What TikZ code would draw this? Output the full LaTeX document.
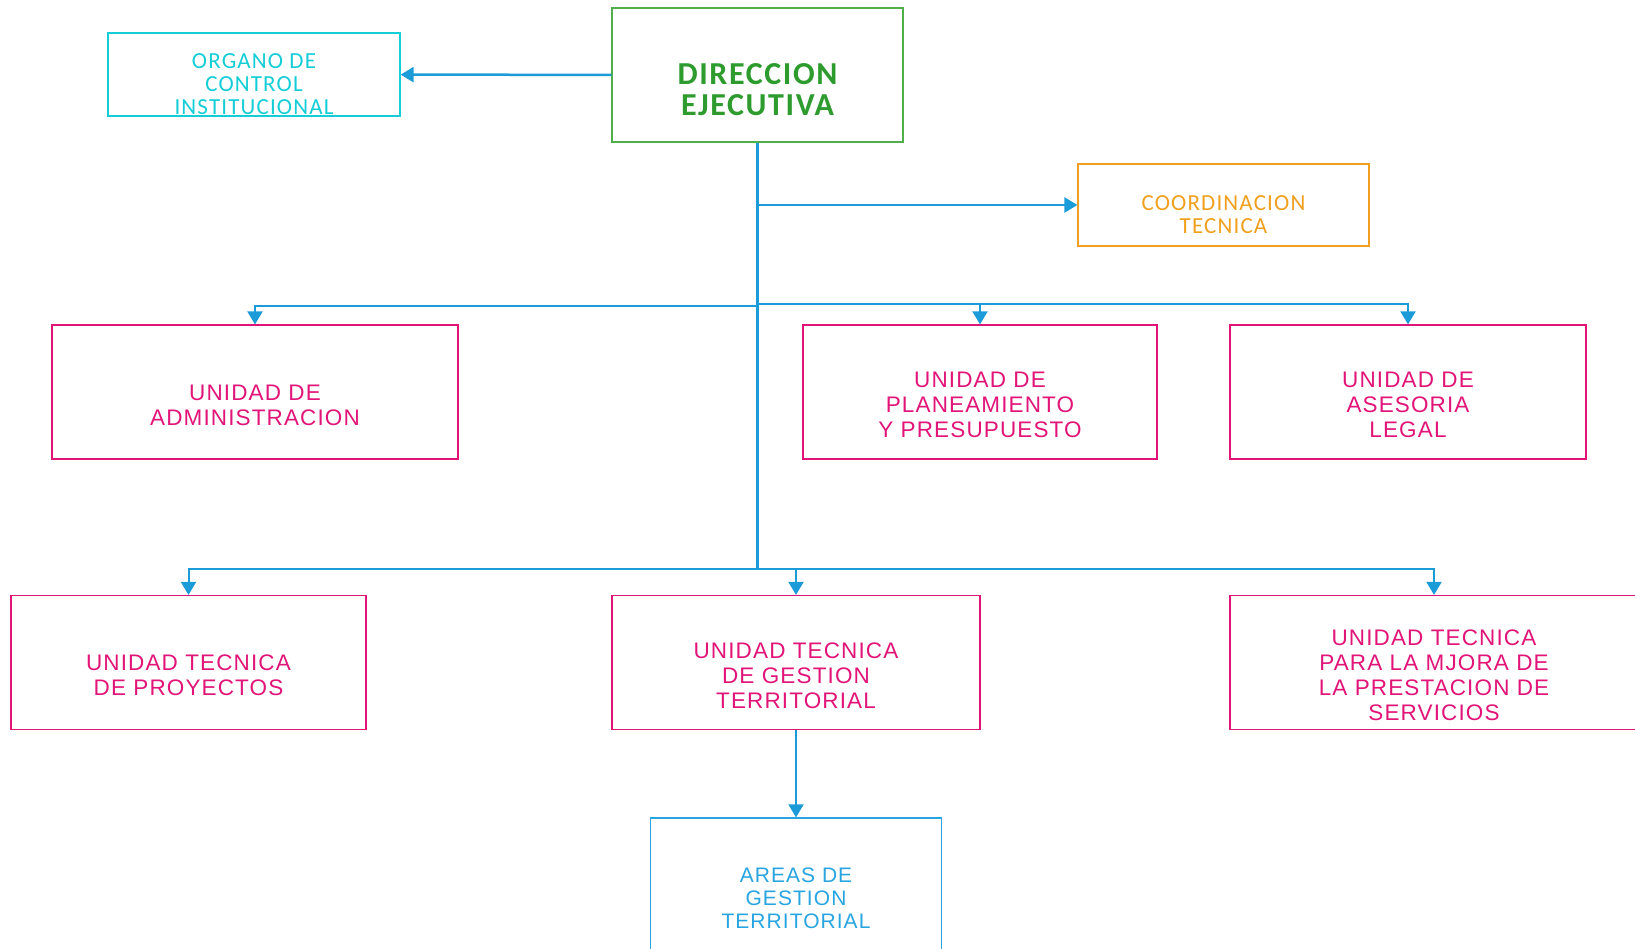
\documentclass[tikz,border=0pt]{standalone}
\usepackage{fontspec}
\usepackage{tikz}
\usetikzlibrary{arrows.meta}
\newfontfamily\calibri[LetterSpace=5]{Carlito}
\newfontfamily\arialesp[LetterSpace=5]{Liberation Sans}

\begin{document}
\begin{tikzpicture}[x=1pt, y=-1pt]
    \definecolor{linea}{RGB}{27,155,215}    % Azul conectores
    \definecolor{verde}{RGB}{80,175,75}     % Borde direccion
    \definecolor{verdeT}{RGB}{45,155,45}    % Texto direccion
    \definecolor{cian}{RGB}{20,205,215}     % Organo de control
    \definecolor{naranja}{RGB}{240,160,30}  % Coordinacion
    \definecolor{rosa}{RGB}{225,20,120}     % Unidades
    \definecolor{celeste}{RGB}{40,165,225}  % Areas

    \tikzset{
      caja/.style={draw=#1, line width=1.2pt, inner sep=0pt, minimum height=134pt},
      txt/.style={text=#1, align=center, yshift=-13pt, inner sep=0pt},
      uni/.style={font=\arialesp\fontsize{22.5}{25}\selectfont},
      cal/.style={font=\calibri\fontsize{23}{23}\selectfont},
      flecha/.style={-{Triangle[length=13pt,width=15pt]}, line width=2pt, linea},
    }

    \useasboundingbox (0,0) rectangle (1635,949);
    \clip (0,0) rectangle (1635,949);

    \node (dir) at (757.5,75) [caja=verde, minimum width=291pt,
      label={[txt=verdeT, yshift=-2pt, font=\calibri\bfseries\fontsize{32}{31}\selectfont]center:{DIRECCION\\EJECUTIVA}}] {};
    \node (org) at (254,74.5) [caja=cian, minimum width=292pt, minimum height=83pt,
      label={[txt=cian, yshift=3pt, cal]center:{ORGANO DE\\CONTROL\\INSTITUCIONAL}}] {};
    \node (coord) at (1223.5,205) [caja=naranja, minimum width=291pt, minimum height=82pt,
      label={[txt=naranja, yshift=3pt, cal]center:{COORDINACION\\TECNICA}}] {};

    \node (adm) at (255,392) [caja=rosa, minimum width=406pt,
      label={[txt=rosa, uni]center:{UNIDAD DE\\ADMINISTRACION}}] {};
    \node (pla) at (980,392) [caja=rosa, minimum width=354pt,
      label={[txt=rosa, uni]center:{UNIDAD DE\\PLANEAMIENTO\\Y PRESUPUESTO}}] {};
    \node (ase) at (1408,392) [caja=rosa, minimum width=356pt,
      label={[txt=rosa, uni]center:{UNIDAD DE\\ASESORIA\\LEGAL}}] {};

    \node (pro) at (188.5,662.5) [caja=rosa, minimum width=355pt,
      label={[txt=rosa, uni]center:{UNIDAD TECNICA\\DE PROYECTOS}}] {};
    \node (ges) at (796,662.5) [caja=rosa, minimum width=368pt,
      label={[txt=rosa, uni]center:{UNIDAD TECNICA\\DE GESTION\\TERRITORIAL}}] {};
    \node (mej) at (1434,662.5) [caja=rosa, minimum width=408pt,
      label={[txt=rosa, uni]center:{UNIDAD TECNICA\\PARA LA MJORA DE\\LA PRESTACION DE\\SERVICIOS}}] {};

    \node (are) at (796,885) [caja=celeste, minimum width=291pt,
      label={[txt=celeste, font=\arialesp\fontsize{21}{23}\selectfont]center:{AREAS DE\\GESTION\\TERRITORIAL}}] {};

    \coordinate (b1i) at (757.5,306.5);
    \coordinate (b1d) at (757.5,304.5);
    \coordinate (b2) at (757.5,569);

    \draw[linea, line width=3pt] (dir) -- (b2);
    \draw[flecha, line width=2.5pt] (dir) -- (org);
    \draw[flecha, line width=2.5pt] (dir.south |- coord) -- (coord);

    \draw[flecha] (b1i) -| (adm);
    \draw[flecha] (b1d) -| (pla);
    \draw[flecha] (b1d) -| (ase);

    \draw[flecha] (b2) -| (pro);
    \draw[flecha] (b2) -| (ges);
    \draw[flecha] (b2) -| (mej);

    \draw[flecha] (ges) -- (are);
  \end{tikzpicture}
\end{document}
